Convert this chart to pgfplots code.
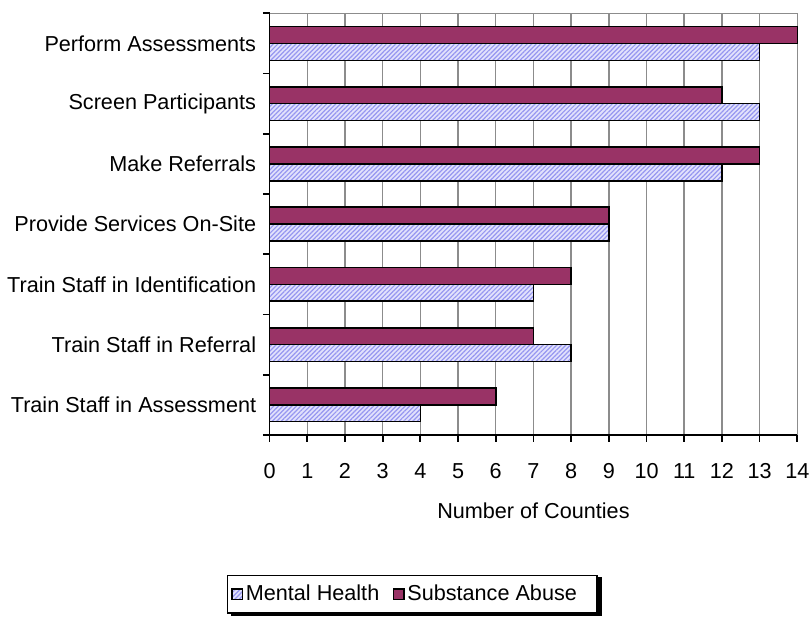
\documentclass[border=0pt]{standalone}
\usepackage{fontspec}
\setmainfont{Liberation Sans}
\usepackage{pgfplots}
\pgfplotsset{compat=1.18}
\usetikzlibrary{patterns.meta,backgrounds}
\definecolor{sa}{HTML}{993366}
\definecolor{mhfill}{RGB}{226,226,252}
\definecolor{mhline}{RGB}{150,150,240}
\definecolor{gridgray}{HTML}{8C8C8C}
\begin{document}
\fontsize{16.2}{19}\selectfont
\begin{tikzpicture}
\begin{axis}[
  scale only axis,
  width=395.25pt, height=315.75pt,
  xbar, bar width=0.28,
  xmin=0, xmax=14,
  ymin=-0.5, ymax=6.5,
  axis x line*=bottom, axis y line*=left,
  axis line style={line width=1.3pt, black, -},
  xtick={0,...,14},
  xmajorgrids, grid style={gridgray, line width=1.1pt},
  major x tick style={line width=1.3pt, black},
  major tick length=5pt,
  tick align=outside,
  xticklabel style={yshift=-11pt, inner xsep=0pt},
  ytick={0,...,6},
  yticklabels={Train Staff in Assessment, Train Staff in Referral, Train Staff in Identification, Provide Services On-Site, Make Referrals, Screen Participants, Perform Assessments},
  major y tick style={draw=none},
  minor ytick={-0.5,0.5,...,6.5},
  minor y tick style={line width=1.3pt, black},
  minor tick length=5pt,
  yticklabel style={xshift=0.5pt},
  /pgf/number format/assume math mode=true,
  ticklabel style={font=\fontsize{16.2}{19}\selectfont},
  xlabel={Number of Counties},
  xlabel style={font=\fontsize{16.2}{19}\selectfont, yshift=-6.5pt},
  legend columns=2,
  legend style={name=leg, at={(0.27,-0.378)}, anchor=center, draw=black, line width=1pt, fill=white,
    font=\fontsize{16.2}{19}\selectfont,
    /tikz/every even column/.append style={column sep=8pt},
    inner xsep=3pt, inner ysep=5pt},
  legend image code/.code={\draw[#1, line width=1pt] (0pt,-4pt) rectangle (8pt,4pt);},
  clip=false,
]
\addplot[bar shift=-0.14, draw=black, line width=1.2pt, fill=mhfill, postaction={pattern={Lines[angle=45, distance=2.4pt, line width=0.9pt]}, pattern color=mhline}]
  coordinates {(4,0) (8,1) (7,2) (9,3) (12,4) (13,5) (13,6)};
\addlegendentry{Mental Health}
\addplot[bar shift=0.14, draw=black, line width=1.2pt, fill=sa]
  coordinates {(6,0) (7,1) (8,2) (9,3) (13,4) (12,5) (14,6)};
\addlegendentry{Substance Abuse\kern 10pt}
\draw[gridgray, line width=1.1pt] (rel axis cs:0,1) -- (rel axis cs:1,1);
\path (rel axis cs:0,1) ++(0pt,10pt);
\path (rel axis cs:1,0) ++(11pt,0pt);
\end{axis}
\begin{scope}[on background layer]
\fill[black] ([xshift=3.5pt,yshift=-2pt]leg.south west) rectangle ([xshift=3.5pt,yshift=-2pt]leg.north east);
\end{scope}
\end{tikzpicture}
\end{document}
